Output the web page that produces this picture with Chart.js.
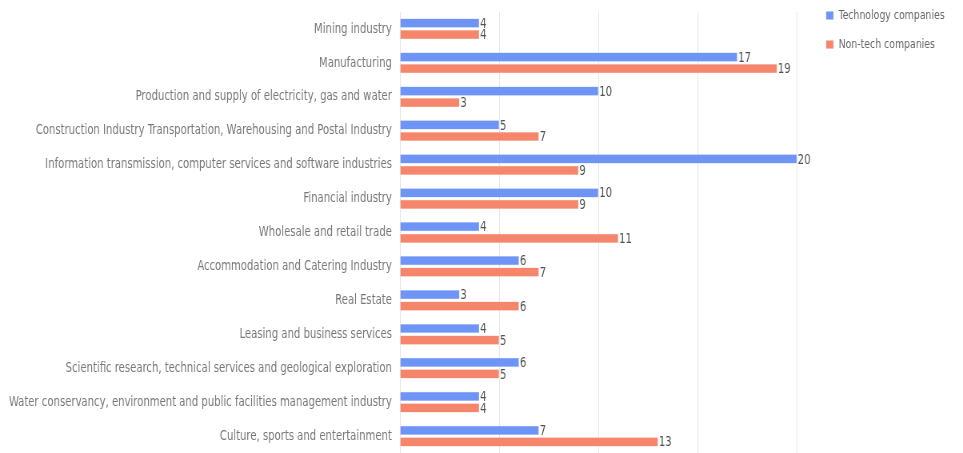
<!DOCTYPE html>
<html>
<head>
<meta charset="utf-8">
<script src="https://cdn.jsdelivr.net/npm/chart.js@4.4.0/dist/chart.umd.min.js"></script>
<style>
  html, body { margin: 0; padding: 0; background: #fff; overflow: hidden; }
  /* drawn wide, then squeezed so the text reads condensed */
  #wrap { width: 1204px; height: 453px; transform: scaleX(0.79983); transform-origin: 0 0; }
</style>
</head>
<body>
<div id="wrap"><canvas id="mychart"></canvas></div>
<script>
var industries = [
    'Mining industry',
    'Manufacturing',
    'Production and supply of electricity, gas and water',
    'Construction Industry Transportation, Warehousing and Postal Industry',
    'Information transmission, computer services and software industries',
    'Financial industry',
    'Wholesale and retail trade',
    'Accommodation and Catering Industry',
    'Real Estate',
    'Leasing and business services',
    'Scientific research, technical services and geological exploration',
    'Water conservancy, environment and public facilities management industry',
    'Culture, sports and entertainment'
];
var techCompanies = [4, 17, 10, 5, 20, 10, 4, 6, 3, 4, 6, 4, 7];
var nonTechCompanies = [4, 19, 3, 7, 9, 9, 11, 7, 6, 5, 5, 4, 13];
var gridSteps = [0, 5, 10, 15, 20];

var labelFont = "'DejaVu Sans Condensed', 'DejaVu Sans', sans-serif";

// writes each bar's count just past its end
var valueLabels = {
    id: 'valueLabels',
    afterDatasetsDraw: function(chart) {
        var ctx = chart.ctx;
        ctx.save();
        ctx.font = '14px ' + labelFont;
        ctx.fillStyle = '#505050';
        ctx.textAlign = 'left';
        ctx.textBaseline = 'middle';
        chart.data.datasets.forEach(function(ds, i) {
            chart.getDatasetMeta(i).data.forEach(function(bar, j) {
                ctx.fillText(ds.data[j], bar.x + 1, bar.y + 1);
            });
        });
        ctx.restore();
    }
};

var config = {
    type: 'bar',
    data: {
        labels: industries,
        datasets: [{
            label: 'Technology companies',
            data: techCompanies,
            backgroundColor: '#6e94f6',
            borderColor: '#a9c0fa',
            borderWidth: 0.5,
            categoryPercentage: 0.68,
            barPercentage: 0.8
        }, {
            label: 'Non-tech companies',
            data: nonTechCompanies,
            backgroundColor: '#f5866b',
            borderColor: '#f9b8a8',
            borderWidth: 0.5,
            categoryPercentage: 0.68,
            barPercentage: 0.8
        }]
    },
    options: {
        indexAxis: 'y',
        responsive: true,
        maintainAspectRatio: false,
        animation: false,
        layout: { padding: { top: -7, right: 13, bottom: 0, left: 0 } },
        plugins: {
            legend: {
                position: 'right',
                align: 'start',
                labels: {
                    boxWidth: 9,
                    boxHeight: 8,
                    padding: 16,
                    color: '#666',
                    font: { family: labelFont, size: 13 }
                }
            },
            tooltip: { enabled: false }
        },
        scales: {
            x: {
                position: 'top',
                min: 0,
                max: 20.83,
                afterBuildTicks: function(axis) {
                    axis.ticks = gridSteps.map(function(v) { return { value: v }; });
                },
                afterFit: function(axis) { axis.height = 19; },
                ticks: { display: false },
                grid: { color: '#e6e6e6', drawTicks: false },
                border: { display: false }
            },
            y: {
                afterFit: function(axis) {
                    axis.width = 500;
                    axis.paddingTop = 0;
                    axis.paddingBottom = 0;
                },
                ticks: {
                    color: '#777',
                    padding: 10,
                    autoSkip: false,
                    font: { family: labelFont, size: 14 }
                },
                grid: { display: false, drawTicks: false },
                border: { display: false }
            }
        }
    },
    plugins: [valueLabels]
};

var ctx = document.getElementById('mychart').getContext('2d');
window.myBar = new Chart(ctx, config);
</script>
</body>
</html>
